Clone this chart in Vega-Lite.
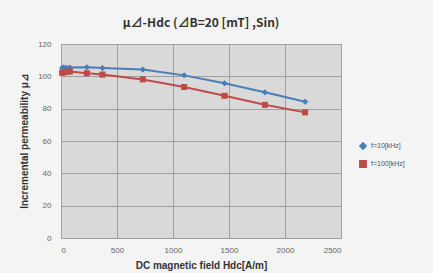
{
  "$schema": "https://vega.github.io/schema/vega-lite/v6.json",
  "autosize": {"type": "none"},
  "padding": {"left": 61, "top": 44, "right": 92, "bottom": 35},
  "width": 280,
  "height": 194,
  "background": "#f4f4f4",
  "title": {"text": "μ⊿-Hdc (⊿B=20 [mT] ,Sin)", "fontSize": 12, "fontWeight": "bold", "font": "Noto Sans CJK JP", "color": "#333333", "anchor": "middle", "offset": 10},
  "data": {"values": [
    {"H": 10, "mu": 105.2, "series": "f=10[kHz]"},
    {"H": 25, "mu": 105.5, "series": "f=10[kHz]"},
    {"H": 50, "mu": 105.3, "series": "f=10[kHz]"},
    {"H": 80, "mu": 105.4, "series": "f=10[kHz]"},
    {"H": 230, "mu": 105.6, "series": "f=10[kHz]"},
    {"H": 370, "mu": 105.2, "series": "f=10[kHz]"},
    {"H": 730, "mu": 104.2, "series": "f=10[kHz]"},
    {"H": 1100, "mu": 100.6, "series": "f=10[kHz]"},
    {"H": 1460, "mu": 95.7, "series": "f=10[kHz]"},
    {"H": 1820, "mu": 90.1, "series": "f=10[kHz]"},
    {"H": 2180, "mu": 84.3, "series": "f=10[kHz]"},
    {"H": 10, "mu": 102.2, "series": "f=100[kHz]"},
    {"H": 25, "mu": 102.5, "series": "f=100[kHz]"},
    {"H": 50, "mu": 102.8, "series": "f=100[kHz]"},
    {"H": 80, "mu": 103.0, "series": "f=100[kHz]"},
    {"H": 230, "mu": 101.9, "series": "f=100[kHz]"},
    {"H": 370, "mu": 101.1, "series": "f=100[kHz]"},
    {"H": 730, "mu": 98.1, "series": "f=100[kHz]"},
    {"H": 1100, "mu": 93.4, "series": "f=100[kHz]"},
    {"H": 1460, "mu": 88.0, "series": "f=100[kHz]"},
    {"H": 1820, "mu": 82.4, "series": "f=100[kHz]"},
    {"H": 2180, "mu": 77.7, "series": "f=100[kHz]"}
  ]},
  "encoding": {
    "x": {"field": "H", "type": "quantitative", "scale": {"domain": [0, 2500], "nice": false},
      "axis": {"values": [0, 500, 1000, 1500, 2000, 2500], "format": "d", "title": "DC magnetic field Hdc[A/m]", "titleFontSize": 10, "titleFontWeight": "bold", "titleColor": "#333333", "titleFont": "Liberation Sans", "labelFontSize": 8, "labelColor": "#666666", "labelFont": "Liberation Sans", "domain": false, "ticks": false, "labelPadding": 8, "titlePadding": 6, "gridColor": "#a0a0a0", "gridWidth": 1}},
    "y": {"field": "mu", "type": "quantitative", "scale": {"domain": [0, 120], "nice": false},
      "axis": {"values": [0, 20, 40, 60, 80, 100, 120], "title": "Incremental permeability μ⊿", "titleFontSize": 10, "titleFontWeight": "bold", "titleColor": "#333333", "titleFont": "Liberation Sans", "labelFontSize": 8, "labelColor": "#666666", "labelFont": "Liberation Sans", "domain": false, "ticks": false, "labelPadding": 10, "titlePadding": 8, "gridColor": "#a0a0a0", "gridWidth": 1}},
    "color": {"field": "series", "type": "nominal", "scale": {"domain": ["f=10[kHz]", "f=100[kHz]"], "range": ["#4a7ebb", "#be4b48"]},
      "legend": {"title": null, "orient": "none", "legendX": 298, "legendY": 98, "labelFontSize": 7, "labelColor": "#555555", "symbolSize": 40, "rowPadding": 4, "labelFont": "Liberation Sans"}},
    "shape": {"field": "series", "type": "nominal", "scale": {"domain": ["f=10[kHz]", "f=100[kHz]"], "range": ["diamond", "square"]}, "legend": null}
  },
  "layer": [
    {"mark": {"type": "line", "strokeWidth": 2}},
    {"mark": {"type": "point", "filled": true, "opacity": 1}, "encoding": {"size": {"value": 35}}}
  ],
  "config": {"view": {"fill": "#d9d9d9", "stroke": "#a0a0a0"}}
}
